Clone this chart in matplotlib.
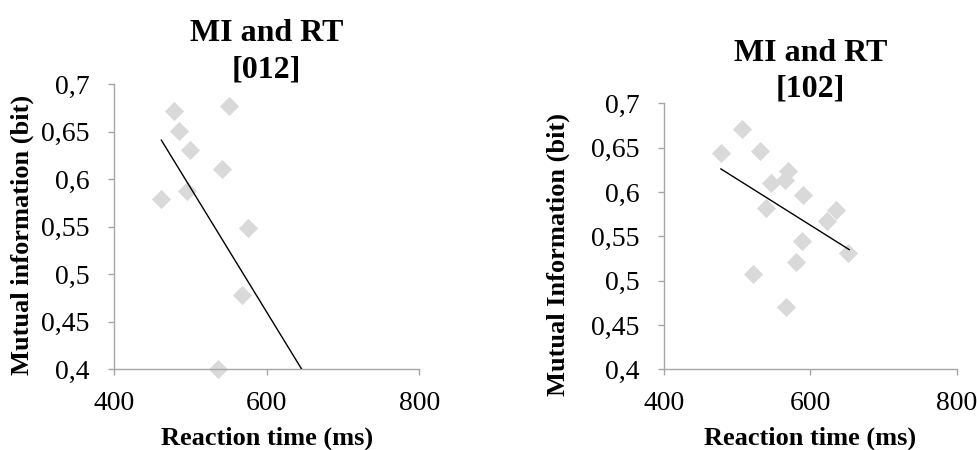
import numpy as np
import matplotlib.pyplot as plt

plt.rcParams['font.family'] = ['Liberation Serif', 'DejaVu Serif']

# [012] condition: reaction time (ms) vs mutual information (bit)
rt_012 = [461, 478, 485, 500, 496, 551, 541, 576, 568, 536]
mi_012 = [0.579, 0.672, 0.651, 0.631, 0.587, 0.677, 0.611, 0.549, 0.478, 0.400]
trend_rt_012 = [462, 646]
trend_mi_012 = [0.641, 0.400]

# [102] condition
rt_102 = [478, 507, 531, 547, 565, 569, 539, 590, 635, 623, 588, 581, 651, 522, 567]
mi_102 = [0.644, 0.671, 0.646, 0.610, 0.614, 0.624, 0.582, 0.597, 0.580, 0.567,
          0.545, 0.521, 0.531, 0.508, 0.470]
trend_rt_102 = [478, 653]
trend_mi_102 = [0.626, 0.535]

x_ticks = [400, 600, 800]
y_ticks = [0.4, 0.45, 0.5, 0.55, 0.6, 0.65, 0.7]
y_labels = ['0,4', '0,45', '0,5', '0,55', '0,6', '0,65', '0,7']

W, H = 978, 450
fig = plt.figure(figsize=(W / 100, H / 100), dpi=100)

def px_axes(x0, y0, x1, y1):
    return fig.add_axes([x0 / W, 1 - y1 / H, (x1 - x0) / W, (y1 - y0) / H])

panels = [
    (px_axes(114, 84, 419.3, 369.3), rt_012, mi_012, trend_rt_012, trend_mi_012,
     'MI and RT\n[012]', 'Mutual information (bit)', (-0.262, 0.471), -0.2),
    (px_axes(663.7, 103.3, 957, 369.3), rt_102, mi_102, trend_rt_102, trend_mi_102,
     'MI and RT\n[102]', 'Mutual Information (bit)', (-0.319, 0.43), -0.215),
]

for ax, rt, mi, trx, trmi, title, ylab, ylc, xly in panels:
    ax.scatter(rt, mi, marker='D', s=95, color='#D9D9D9', linewidths=0,
               zorder=2, clip_on=False)
    ax.plot(trx, trmi, color='black', lw=1.0, zorder=3)
    ax.set_xlim(400, 800)
    ax.set_ylim(0.4, 0.7)
    ax.set_xticks(x_ticks)
    ax.set_yticks(y_ticks)
    ax.set_yticklabels(y_labels)
    for s in ['top', 'right']:
        ax.spines[s].set_visible(False)
    for s in ['left', 'bottom']:
        ax.spines[s].set_color('#A6A6A6')
        ax.spines[s].set_linewidth(1.0)
    ax.tick_params(direction='out', length=4.5, width=1.0, color='#A6A6A6',
                   labelsize=20)
    ax.tick_params(axis='y', pad=13)
    ax.tick_params(axis='x', pad=11)
    ax.set_title(title, fontsize=23, fontweight='bold', pad=5, linespacing=1.3)
    ax.set_xlabel('Reaction time (ms)', fontsize=19, fontweight='bold')
    ax.xaxis.set_label_coords(0.5, xly)
    ax.set_ylabel(ylab, fontsize=19, fontweight='bold')
    ax.yaxis.set_label_coords(*ylc)

fig.savefig('out.png', dpi=100)
